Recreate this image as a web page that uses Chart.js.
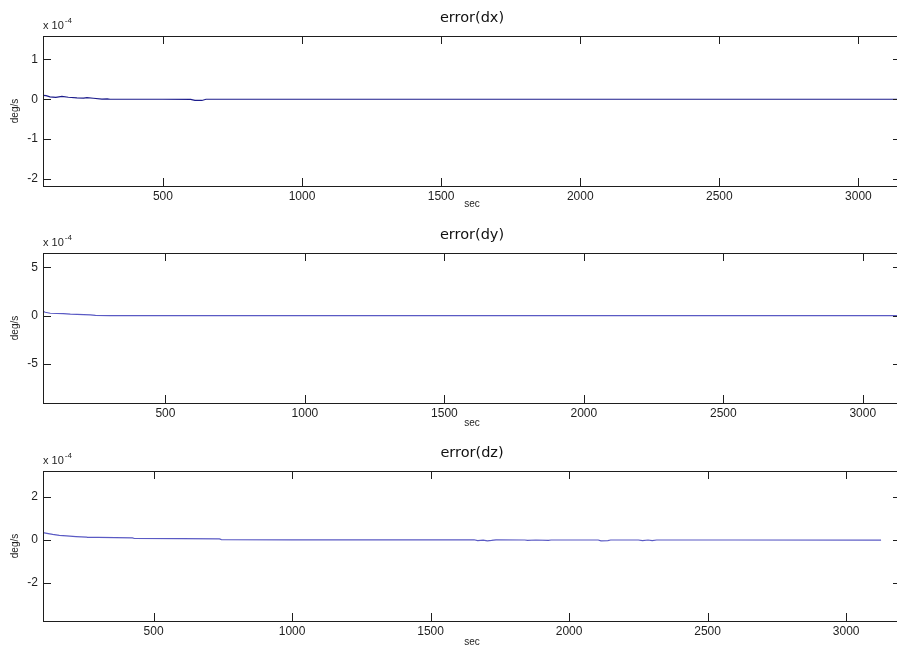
<!DOCTYPE html>
<html>
<head>
<meta charset="utf-8">
<script src="https://cdn.jsdelivr.net/npm/chart.js@4.4.0/dist/chart.umd.min.js"></script>
<style>
  html, body { margin: 0; padding: 0; background: #fff; overflow: hidden; width: 897px; height: 657px; }
  .panel { position: absolute; left: 0; width: 902px; height: 219px; }
</style>
</head>
<body>
<div class="panel" style="top:0"><canvas id="cdx"></canvas></div>
<div class="panel" style="top:219px"><canvas id="cdy"></canvas></div>
<div class="panel" style="top:438px"><canvas id="cdz"></canvas></div>
<script>
// values are in units of 1e-4 deg/s (matches the "x 10^-4" axis multiplier)
const xTicks = [500, 1000, 1500, 2000, 2500, 3000];

const dxTime = [69, 80, 94, 115, 137, 160, 191, 215, 227, 250, 281, 300, 310, 400, 500, 600, 615, 640, 655, 800, 1000, 1500, 2000, 2500, 3000, 3150];
const dxVal  = [0.10, 0.09, 0.06, 0.05, 0.07, 0.05, 0.035, 0.03, 0.04, 0.025, 0.005, 0.01, 0.0, 0.0, 0.0, -0.005, -0.03, -0.03, 0.0, 0.0, 0.0, 0.0, 0.0, 0.0, 0.0, 0.0];
const dxYTicks = [-2, -1, 0, 1];

const dyTime = [61, 69, 87, 134, 159, 231, 249, 300, 500, 1000, 1500, 2000, 2500, 3000, 3135];
const dyVal  = [0.45, 0.35, 0.25, 0.2, 0.15, 0.08, 0.02, 0.0, 0.0, 0.0, 0.0, 0.0, 0.0, 0.0, 0.0];
const dyYTicks = [-5, 0, 5];

const dzTime = [101, 120, 136, 160, 186, 220, 258, 262, 300, 424, 431, 600, 738, 745, 1000, 1300, 1657, 1670, 1690, 1705, 1720, 1736, 1840, 1850, 1880, 1925, 1935, 2105, 2115, 2140, 2150, 2250, 2265, 2285, 2300, 2316, 2600, 3126];
const dzVal  = [0.34, 0.30, 0.26, 0.22, 0.19, 0.16, 0.13, 0.12, 0.12, 0.10, 0.07, 0.06, 0.05, 0.02, 0.01, 0.01, 0.01, -0.03, -0.01, -0.04, -0.02, 0.01, 0.0, -0.02, 0.0, -0.02, 0.0, 0.0, -0.04, -0.03, 0.0, 0.0, -0.03, 0.0, -0.03, 0.0, 0.0, -0.005];
const dzYTicks = [-2, 0, 2];

const FONT = '"Liberation Sans", Arial, sans-serif';
const INK = '#1e1e1e';

// MATLAB style box: frame with inward ticks on all four sides + exponent label
const matlabBox = {
  id: 'matlabBox',
  afterDraw(chart) {
    const { ctx, chartArea: a, scales: { x, y } } = chart;
    const len = 8;
    ctx.save();
    ctx.strokeStyle = INK;
    ctx.lineWidth = 1;
    ctx.strokeRect(Math.round(a.left) + 0.5, Math.round(a.top) + 0.5, Math.round(a.right - a.left), Math.round(a.bottom - a.top));
    ctx.beginPath();
    x.ticks.forEach(t => {
      const px = Math.round(x.getPixelForValue(t.value)) + 0.5;
      ctx.moveTo(px, a.top); ctx.lineTo(px, a.top + len);
      ctx.moveTo(px, a.bottom); ctx.lineTo(px, a.bottom - len);
    });
    y.ticks.forEach(t => {
      const py = Math.round(y.getPixelForValue(t.value)) + 0.5;
      ctx.moveTo(a.left, py); ctx.lineTo(a.left + len, py);
      ctx.moveTo(a.right, py); ctx.lineTo(a.right - len, py);
    });
    ctx.stroke();
    ctx.fillStyle = INK;
    ctx.textBaseline = 'alphabetic';
    ctx.font = '11px ' + FONT;
    ctx.fillText('x 10', a.left, a.top - 7);
    const w = ctx.measureText('x 10').width;
    ctx.font = '8px ' + FONT;
    ctx.fillText('-4', a.left + w + 1, a.top - 13);
    ctx.restore();
  }
};

function makePanel(id, title, time, vals, yMin, yMax, yTicks, xMin, xMax, color, padTop, padBot, xHeight) {
  const points = time.map((t, i) => ({ x: t, y: vals[i] }));
  return new Chart(document.getElementById(id), {
    type: 'line',
    data: {
      datasets: [{
        data: points,
        borderColor: color,
        borderWidth: 1.2,
        pointRadius: 0,
        tension: 0,
        fill: false
      }]
    },
    options: {
      responsive: true,
      maintainAspectRatio: false,
      animation: false,
      layout: { padding: { top: 0, left: 0, right: 1, bottom: 0 } },
      plugins: {
        legend: { display: false },
        tooltip: { enabled: false },
        title: {
          display: true,
          text: title,
          fullSize: false,
          color: '#111',
          font: { family: '"DejaVu Sans", sans-serif', size: 14.5, weight: 'normal', lineHeight: 1.2 },
          padding: { top: padTop, bottom: padBot }
        }
      },
      scales: {
        x: {
          type: 'linear',
          min: xMin,
          max: xMax,
          afterBuildTicks: s => { s.ticks = xTicks.map(v => ({ value: v })); },
          afterFit: s => { s.height = xHeight; },
          grid: { display: false, drawTicks: false },
          border: { display: false },
          ticks: { color: INK, font: { family: FONT, size: 12 }, padding: 3, autoSkip: false, maxRotation: 0, callback: v => String(v) },
          title: { display: true, text: 'sec', color: INK, font: { family: FONT, size: 10 }, padding: { top: 0, bottom: 9 } }
        },
        y: {
          type: 'linear',
          min: yMin,
          max: yMax,
          afterBuildTicks: s => { s.ticks = yTicks.map(v => ({ value: v })); },
          afterFit: s => { s.width = 43; },
          grid: { display: false, drawTicks: false },
          border: { display: false },
          ticks: { color: INK, font: { family: FONT, size: 12 }, padding: 5, callback: v => String(v) },
          title: { display: true, text: 'deg/s', color: INK, font: { family: FONT, size: 10 }, padding: { top: 9, bottom: 0 } }
        }
      }
    },
    plugins: [matlabBox]
  });
}

makePanel('cdx', 'error(dx)', dxTime, dxVal, -2.18, 1.59, dxYTicks, 69, 3153, '#1c1c8c', 9.3, 9.3, 33);
makePanel('cdy', 'error(dy)', dyTime, dyVal, -9.02, 6.47, dyYTicks, 61, 3137, '#5a5ac4', 7.8, 8.8, 35);
makePanel('cdz', 'error(dz)', dzTime, dzVal, -3.78, 3.22, dzYTicks, 101, 3198, '#5a5ac4', 6.8, 8.8, 36);
</script>
</body>
</html>
